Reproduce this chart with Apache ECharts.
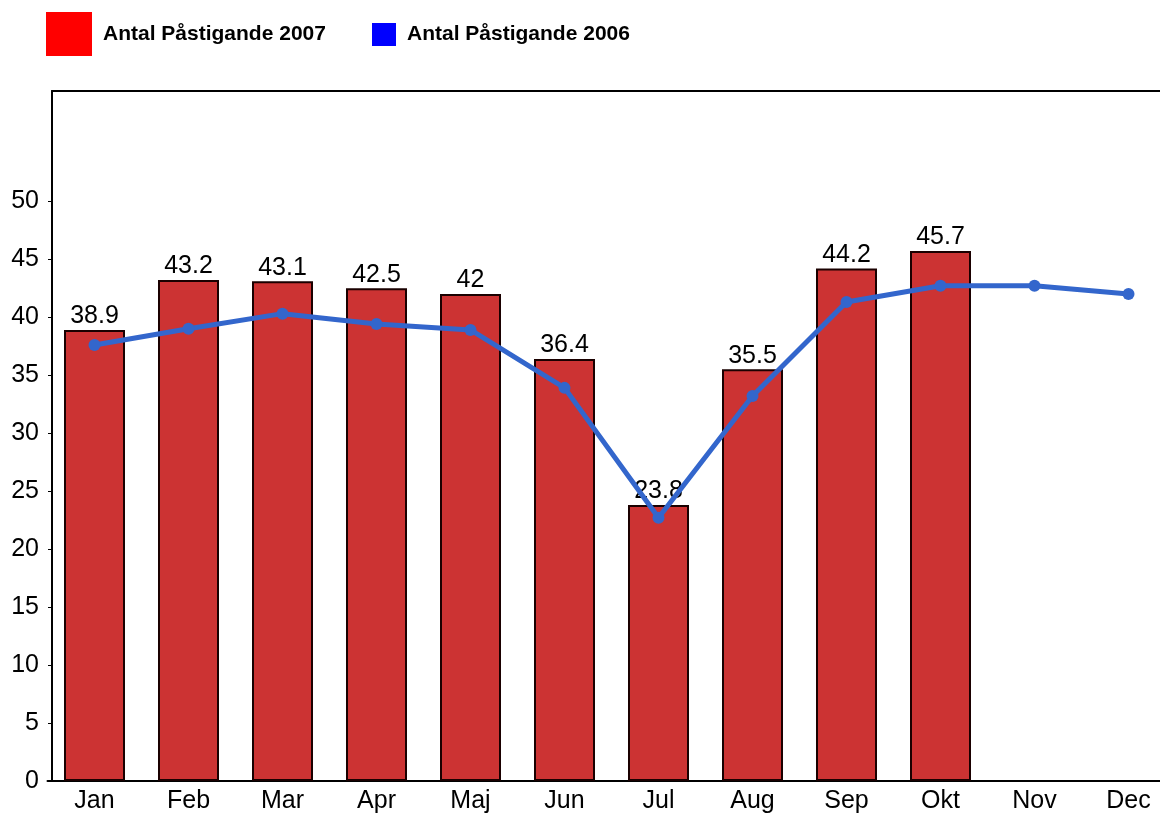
<!DOCTYPE html>
<html>
<head>
<meta charset="utf-8">
<script src="https://cdn.jsdelivr.net/npm/echarts@6/dist/echarts.min.js"></script>
<style>
  html, body { margin: 0; padding: 0; background: #fff; }
  #chart { width: 1160px; height: 816px; }
</style>
</head>
<body>
<div id="chart"></div>
<script>
// month labels and the two series
const months = ['Jan', 'Feb', 'Mar', 'Apr', 'Maj', 'Jun', 'Jul', 'Aug', 'Sep', 'Okt', 'Nov', 'Dec'];
const values2007 = [38.9, 43.2, 43.1, 42.5, 42, 36.4, 23.8, 35.5, 44.2, 45.7, '-', '-'];
const values2006 = [37.6, 39.0, 40.3, 39.4, 38.9, 33.9, 22.7, 33.2, 41.3, 42.7, 42.7, 42.0];
const yTicks = [0, 5, 10, 15, 20, 25, 30, 35, 40, 45, 50];

const chart = echarts.init(document.getElementById('chart'));

const font = 'Liberation Sans, Arial, sans-serif';
const legendText = {
  fontFamily: font,
  fontSize: 21,
  fontWeight: 'bold',
  color: '#000',
  padding: [0, 0, 0, 6]
};

const option = {
  animation: false,
  legend: [
    {
      left: 46, top: 12, padding: 0,
      itemWidth: 46, itemHeight: 44,
      icon: 'rect',
      data: [{ name: 'Antal Påstigande 2007', itemStyle: { color: '#ff0000', borderWidth: 0 } }],
      textStyle: legendText
    },
    {
      left: 372, top: 23, padding: 0,
      itemWidth: 24, itemHeight: 23,
      icon: 'rect',
      data: [{ name: 'Antal Påstigande 2006', itemStyle: { color: '#0000ff', borderWidth: 0 } }],
      textStyle: legendText
    }
  ],
  grid: [
    // plot area, categories start a few px left of the y axis line
    { left: 47.5, top: 91, width: 1128, height: 690, outerBoundsMode: 'none', containLabel: false },
    // thin strip used only for the top border line
    { left: 52, top: 91, width: 1200, height: 1, outerBoundsMode: 'none', containLabel: false }
  ],
  xAxis: [
    {
      type: 'category',
      gridIndex: 0,
      data: months,
      boundaryGap: true,
      axisLine: { lineStyle: { color: '#000', width: 2 } },
      axisTick: { show: false },
      axisLabel: { color: '#000', fontSize: 25, margin: 8, fontFamily: font }
    },
    {
      type: 'value',
      gridIndex: 1,
      position: 'top',
      axisLine: { show: true, onZero: false, lineStyle: { color: '#000', width: 2 } },
      axisTick: { show: false },
      axisLabel: { show: false },
      splitLine: { show: false }
    }
  ],
  yAxis: [
    {
      type: 'value',
      gridIndex: 0,
      min: 0,
      max: 59.5,
      offset: -4.5,
      axisLine: { show: true, lineStyle: { color: '#000', width: 2 } },
      axisTick: { show: true, length: 4, lineStyle: { color: '#000' }, customValues: yTicks },
      splitLine: { show: false },
      axisLabel: { color: '#000', fontSize: 25, margin: 13, fontFamily: font, customValues: yTicks }
    },
    {
      type: 'value',
      gridIndex: 1,
      show: false
    }
  ],
  series: [
    {
      name: 'Antal Påstigande 2007',
      type: 'bar',
      data: values2007,
      barWidth: 61,
      itemStyle: { color: '#cc3333', borderColor: '#1a0000', borderWidth: 2 },
      label: {
        show: true, position: 'top', distance: 1,
        color: '#000', fontSize: 25, fontFamily: font
      },
      z: 2
    },
    {
      name: 'Antal Påstigande 2006',
      type: 'line',
      data: values2006,
      symbol: 'circle',
      symbolSize: 12,
      lineStyle: { color: '#3366cc', width: 5 },
      itemStyle: { color: '#3366cc' },
      z: 5
    }
  ]
};

chart.setOption(option);
</script>
</body>
</html>
